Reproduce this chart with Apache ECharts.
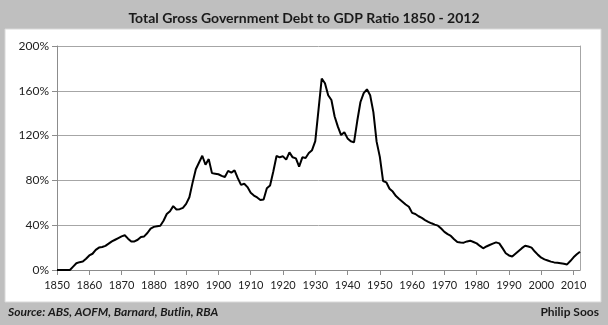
<!DOCTYPE html>
<html>
<head>
<meta charset="utf-8">
<script src="https://cdn.jsdelivr.net/npm/echarts@6/dist/echarts.min.js"></script>
<style>html,body{margin:0;padding:0;background:#fff}#c{width:608px;height:325px}</style>
</head>
<body>
<div id="c"></div>
<script>
const titleText = 'Total Gross Government Debt to GDP Ratio 1850 - 2012';
const sourceText = 'Source: ABS, AOFM, Barnard, Butlin, RBA';
const authorText = 'Philip Soos';
const firstYear = 1850;
const debtRatio = [
  0, 0, 0, 0, 0, 3, 6, 7, 7.5, 10,
  13, 14.5, 18, 20, 20.5, 21.5, 23.5, 25.5, 27, 28.5,
  30, 31, 28, 25.5, 25.5, 27, 29.5, 30, 33, 37,
  38.5, 39, 39.5, 44, 50, 52.5, 57, 54, 54.3, 55.5,
  59, 65, 78, 90, 96, 102, 94, 99, 86.5, 86,
  85.5, 84, 83, 88.5, 87, 89, 82, 76, 77, 74,
  69, 66.5, 64.8, 62.5, 63, 73, 75.5, 88, 101.8, 100.6,
  101.5, 98.5, 105, 100.6, 99.7, 92.3, 100.6, 100, 104.5, 107,
  115, 143, 171, 166.7, 156, 151.8, 137, 128, 120.5, 123,
  117.5, 115, 114, 133, 150, 158, 161.3, 156, 141, 114.6,
  101, 79.5, 78.3, 72.5, 70, 66, 63.4, 61, 58.5, 56.5,
  51, 50, 48, 46.5, 44.6, 43, 41.7, 40.5, 39.6, 37,
  34, 32, 30.4, 27.5, 25, 24.6, 24.4, 25.5, 26.2, 25,
  23.8, 21.5, 19.4, 21, 22.3, 23.5, 24.7, 23.8, 19.5, 15,
  13, 12, 14.5, 17, 19.5, 21.7, 21, 20, 16.5, 13.5,
  11, 9.5, 8.5, 7.5, 6.8, 6.5, 6, 5.5, 5, 8,
  11.3, 14, 16.3
];
const yTicks = [0, 40, 80, 120, 160, 200];

const seriesData = debtRatio.map((v, i) => [firstYear + i, v]);
const chart = echarts.init(document.getElementById('c'), null, {renderer: 'canvas'});
const font = 'Lato, "Open Sans", sans-serif';
chart.setOption({
  animation: false,
  backgroundColor: '#bfbfbf',
  title: {
    text: titleText, left: 'center', top: 6,
    textStyle: {fontFamily: font, fontWeight: 'bold', fontSize: 14, color: '#1a1a1a'}
  },
  graphic: [
    {type: 'rect', z: -10, shape: {x: 5, y: 29, width: 596, height: 273}, style: {fill: '#ffffff', stroke: '#d9d9d9', lineWidth: 1}},
    {type: 'text', left: 8, top: 306, style: {text: sourceText, font: 'italic bold 12px ' + font, fill: '#1a1a1a'}},
    {type: 'text', right: 9, top: 306, style: {text: authorText, font: 'bold 12px ' + font, fill: '#1a1a1a'}}
  ],
  grid: {left: 57, right: 28, top: 46, bottom: 55},
  xAxis: {
    type: 'value', min: 1850, max: 2012, interval: 10,
    axisLine: {show: true, lineStyle: {color: '#8c8c8c', width: 1}},
    axisTick: {show: true, inside: false, length: 5, lineStyle: {color: '#8c8c8c'}},
    axisLabel: {showMaxLabel: false, margin: 10, fontFamily: font, fontSize: 11, color: '#222',
      formatter: v => (v % 10 === 0 ? String(v) : '')},
    splitLine: {show: false}
  },
  yAxis: [{
    type: 'value', min: yTicks[0], max: yTicks[yTicks.length - 1], interval: 40,
    axisLine: {show: true, lineStyle: {color: '#8c8c8c', width: 1}},
    axisTick: {show: true, length: 5, lineStyle: {color: '#8c8c8c'}},
    axisLabel: {margin: 8, fontFamily: font, fontSize: 12, color: '#222', formatter: '{value}%'},
    splitLine: {show: true, lineStyle: {color: '#a6a6a6', width: 1}}
  }, {
    type: 'value', position: 'right', min: 0, max: 200, interval: 40,
    axisLine: {show: true, lineStyle: {color: '#a6a6a6', width: 1}},
    axisTick: {show: false}, axisLabel: {show: false}, splitLine: {show: false}
  }],
  series: [{
    type: 'line', data: seriesData, yAxisIndex: 0, showSymbol: false, smooth: false,
    lineStyle: {color: '#000000', width: 2}, z: 5
  }]
});
</script>
</body>
</html>
